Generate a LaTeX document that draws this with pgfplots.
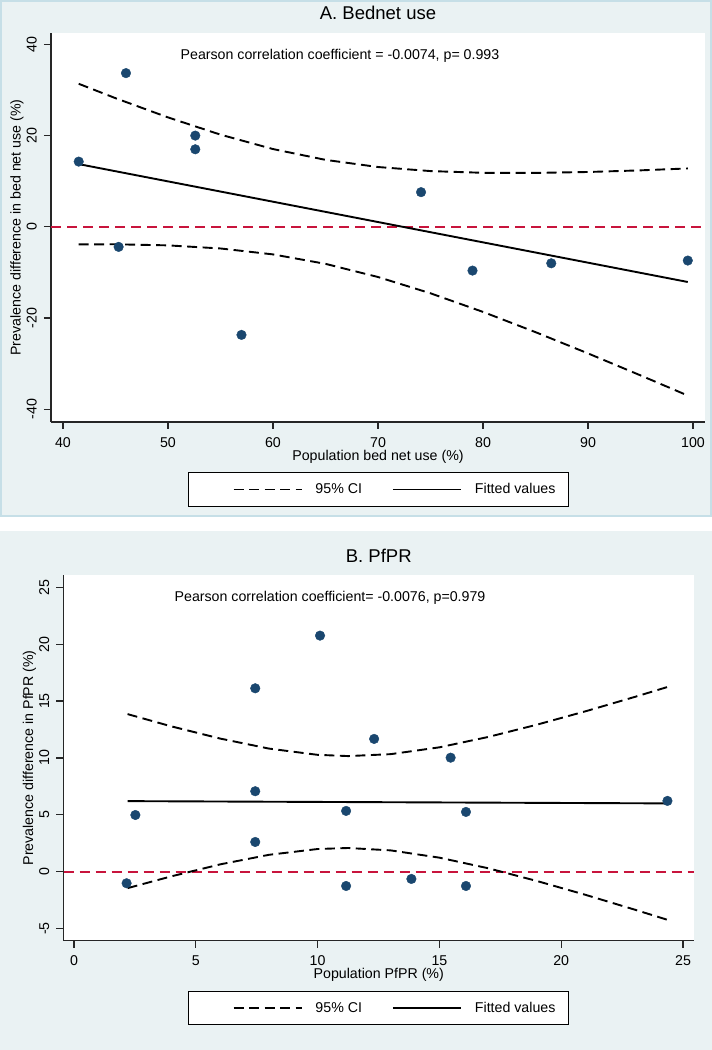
\documentclass[border=0pt]{standalone}
\usepackage{fontspec}
\setmainfont{Liberation Sans}
\usepackage{pgfplots}
\pgfplotsset{compat=1.18}

\definecolor{bgc}{RGB}{234,242,243}
\definecolor{bord}{RGB}{198,223,231}
\definecolor{navy}{RGB}{26,71,111}
\definecolor{redl}{RGB}{200,20,60}

\newcommand{\fs}{\fontsize{14.2}{16}\selectfont}

\pgfplotsset{
  stata/.style={
    scale only axis,
    axis x line*=bottom, axis y line*=left,
    axis line style={-, line width=1.2pt, black!85},
    every tick/.style={line width=1.2pt, black!85},
    tick align=outside,
    major tick length=7pt,
    axis background/.style={fill=white},
    /pgf/number format/assume math mode=true,
    tick label style={font=\fs},
    % rotated labels: local y points left
    yticklabel style={rotate=90, anchor=south, inner sep=0pt, yshift=7pt},
    xticklabel style={inner sep=0pt, anchor=north, yshift=-8pt},
    label style={font=\fs},
    title style={font=\fontsize{18.5}{20}\selectfont, anchor=base, at={(0.5,1.018)}},
    legend columns=2,
    legend style={
      anchor=center, draw=black, line width=0.9pt, fill=white,
      font=\fs, inner xsep=13pt, inner ysep=11pt,
      nodes={inner sep=0pt},
      /tikz/every odd column/.style={column sep=13pt},
      /tikz/every even column/.style={column sep=30pt},
    },
    legend image code/.code={\draw[#1] (0pt,0pt) -- (68pt,0pt);},
  },
  dots/.style={only marks, mark=*, mark size=4.8pt, navy, mark options={draw=none, fill=navy}},
  cidash/.style={black, line width=1.9pt, dash pattern=on 10pt off 5.5pt},
  cifirst/.style={cidash, legend image code/.code={\path (-31pt,0pt); \draw[##1] (0pt,0pt) -- (68pt,0pt);}},
  fitline/.style={black, line width=1.9pt},
  zeroline/.style={redl, line width=1.8pt, dash pattern=on 10pt off 6pt},
}

\begin{document}
\begin{tikzpicture}
\fill[white] (0pt,0pt) rectangle (712pt,1050pt);
% panel backgrounds
\fill[bgc] (0pt,533pt) rectangle (712pt,1050pt);
\draw[bord, line width=2pt] (1pt,534pt) rectangle (711pt,1049pt);
\fill[bgc] (0pt,0pt) rectangle (712pt,519pt);

% ---------- A. Bednet use ----------
\begin{axis}[stata,
  at={(51pt,628pt)}, anchor=south west,
  width=654pt, height=389pt,
  xmin=38.86, xmax=101.14, ymin=-42.8, ymax=42.5,
  xtick={40,50,60,70,80,90,100},
  ytick={-40,-20,0,20,40},
  title={A. Bednet use},
  xlabel={Population bed net use (\%)},
  ylabel={Prevalence difference in bed net use (\%)},
  xlabel style={at={(axis description cs:0.5,-0.0895)}, anchor=center},
  ylabel style={at={(axis description cs:-0.052,0.5)}, anchor=center, rotate=0},
  legend style={at={(axis description cs:0.5008,-0.1735)}},
]
\addplot[zeroline, forget plot] coordinates {(38.86,0) (101.14,0)};
\addplot[cifirst]
  coordinates {(41.5,31.36) (45,28.21) (50,23.99) (55,20.21) (60,17.05) (65,14.68)
    (70,13.11) (75,12.22) (80,11.84) (85,11.82) (90,12.02) (95,12.38) (99.5,12.8)};
\addlegendentry{95\% CI}
\addplot[cidash, forget plot]
  coordinates {(41.5,-3.86) (45,-3.83) (50,-4.07) (55,-4.75) (60,-6.05) (65,-8.12)
    (70,-11.01) (75,-14.58) (80,-18.66) (85,-23.10) (90,-27.76) (95,-32.58) (99.5,-37.0)};
\addplot[fitline] coordinates {(41.5,13.75) (99.5,-12.1)};
\addlegendentry{Fitted values}
\addplot[dots, forget plot] coordinates {
  (41.5,14.3) (45.3,-4.4) (46.0,33.7) (52.6,20.0) (52.6,17.0)
  (57.0,-23.7) (74.1,7.6) (79.0,-9.6) (86.5,-8.0) (99.5,-7.4)};
\node[font=\fs] at (axis cs:66.38,37.5) {Pearson correlation coefficient = -0.0074, p= 0.993};
\end{axis}

% ---------- B. PfPR ----------
\begin{axis}[stata,
  at={(63.5pt,109.3pt)}, anchor=south west,
  width=630.5pt, height=365.7pt,
  xmin=-0.43, xmax=25.45, ymin=-6.07, ymax=26.08,
  xtick={0,5,10,15,20,25},
  ytick={-5,0,5,10,15,20,25},
  title={B. PfPR},
  xlabel={Population PfPR (\%)},
  ylabel={Prevalence difference in PfPR (\%)},
  xlabel style={at={(axis description cs:0.5,-0.0925)}, anchor=center},
  ylabel style={at={(axis description cs:-0.054,0.5)}, anchor=center, rotate=0},
  legend style={at={(axis description cs:0.4996,-0.184)}},
]
\addplot[zeroline, forget plot] coordinates {(-0.43,0) (25.45,0)};
\addplot[cifirst]
  coordinates {(2.2,13.85) (4,12.77) (6,11.70) (8,10.82) (10,10.27) (11.26,10.16)
    (13,10.33) (15,10.93) (17,11.84) (19,12.92) (21,14.10) (23,15.35) (24.4,16.26)};
\addlegendentry{95\% CI}
\addplot[cidash, forget plot]
  coordinates {(2.2,-1.45) (4,-0.41) (6,0.64) (8,1.48) (10,1.99) (11.26,2.08)
    (13,1.87) (15,1.23) (17,0.30) (19,-0.82) (21,-2.04) (23,-3.33) (24.4,-4.26)};
\addplot[fitline] coordinates {(2.2,6.2) (24.4,6.0)};
\addlegendentry{Fitted values}
\addplot[dots, forget plot] coordinates {
  (2.16,-1.02) (2.52,4.98) (7.44,16.12) (7.44,7.07) (7.44,2.61)
  (10.10,20.75) (11.17,5.34) (11.17,-1.26) (12.32,11.67) (13.85,-0.64)
  (15.46,10.02) (16.09,5.25) (16.09,-1.26) (24.36,6.22)};
\node[font=\fs] at (axis cs:10.51,24.1) {Pearson correlation coefficient= -0.0076, p=0.979};
\end{axis}

\pgfresetboundingbox
\path[use as bounding box] (0pt,0pt) rectangle (712pt,1050pt);
\end{tikzpicture}
\end{document}
